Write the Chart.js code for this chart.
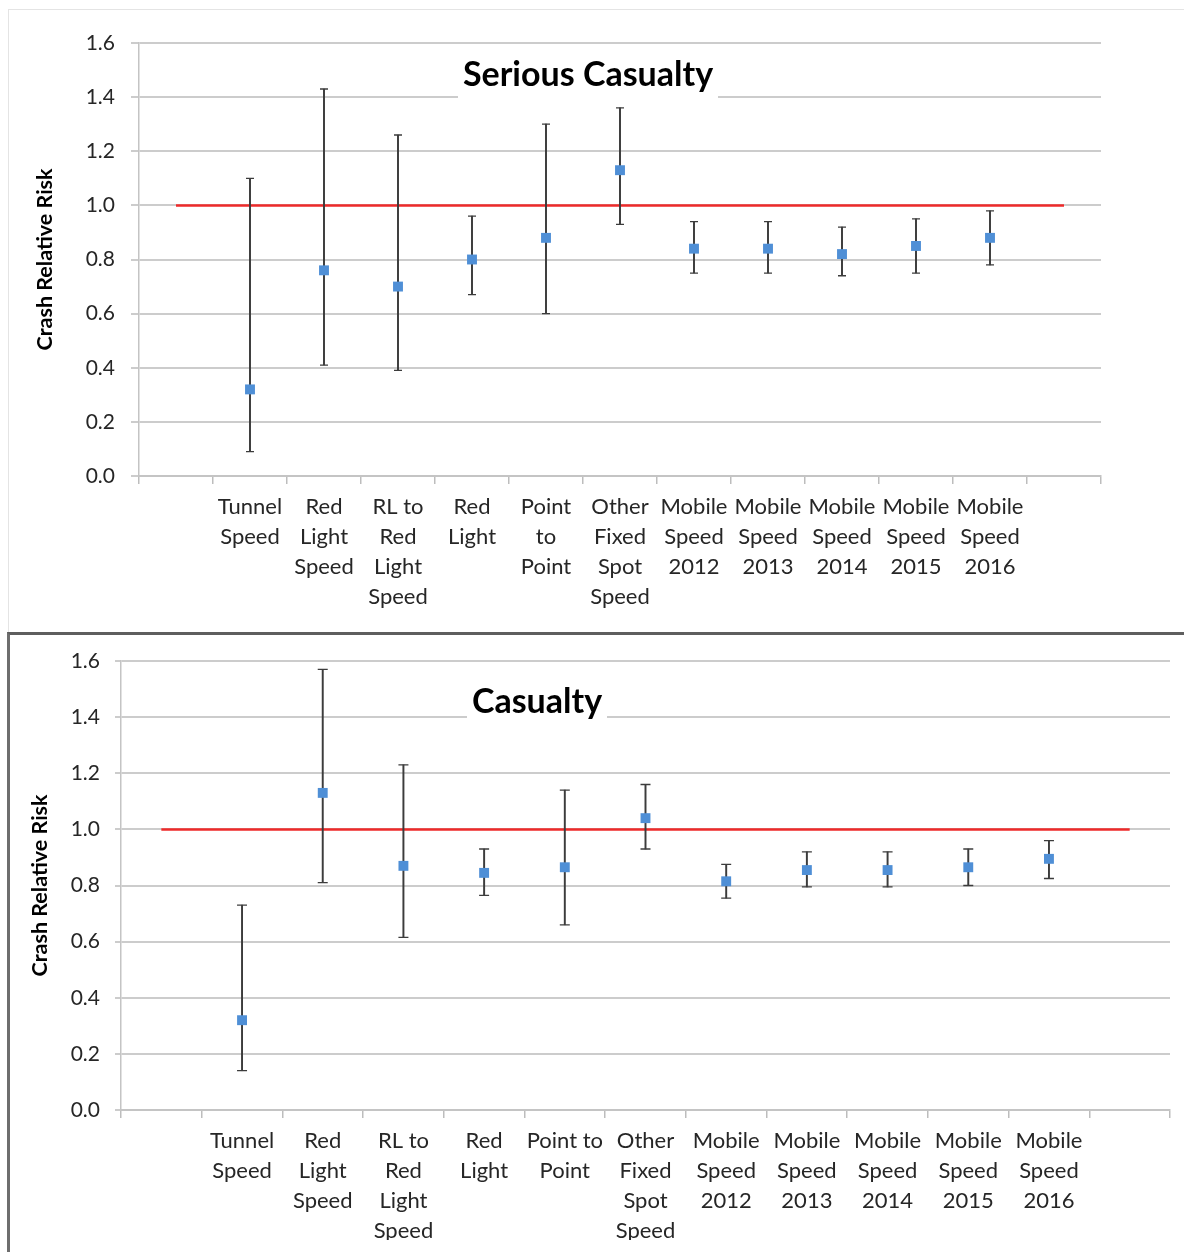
<!DOCTYPE html>
<html>
<head>
<meta charset="utf-8">
<script src="https://cdn.jsdelivr.net/npm/chart.js@4.4.1/dist/chart.umd.min.js"></script>
<style>
  html, body { margin: 0; padding: 0; background: #ffffff; }
  body { width: 1184px; height: 1252px; position: relative; overflow: hidden; }
  #p1 { position: absolute; left: 8px; top: 9px; width: 1176px; height: 623px; box-sizing: border-box;
        border-top: 1px solid #e4e4e4; border-left: 1px solid #e4e4e4; }
  #p2 { position: absolute; left: 7px; top: 632px; width: 1177px; height: 620px; box-sizing: border-box;
        border-top: 3px solid #5e5e5e; border-left: 3px solid #6e6e6e; }
  canvas { position: absolute; left: 0; }
  #c1 { top: 0; }
  #c2 { top: 632px; }
</style>
</head>
<body>
<div id="p1"></div>
<div id="p2"></div>
<canvas id="c1" width="1184" height="632"></canvas>
<canvas id="c2" width="1184" height="620"></canvas>
<script>
// ---------- DATA ----------
const categoriesSerious = [
  "", ["Tunnel","Speed"], ["Red","Light","Speed"], ["RL to","Red","Light","Speed"], ["Red","Light"],
  ["Point","to","Point"], ["Other","Fixed","Spot","Speed"], ["Mobile","Speed","2012"], ["Mobile","Speed","2013"],
  ["Mobile","Speed","2014"], ["Mobile","Speed","2015"], ["Mobile","Speed","2016"], ""
];
const categoriesCasualty = [
  "", ["Tunnel","Speed"], ["Red","Light","Speed"], ["RL to","Red","Light","Speed"], ["Red","Light"],
  ["Point to","Point"], ["Other","Fixed","Spot","Speed"], ["Mobile","Speed","2012"], ["Mobile","Speed","2013"],
  ["Mobile","Speed","2014"], ["Mobile","Speed","2015"], ["Mobile","Speed","2016"], ""
];

const seriousRR   = [null, 0.32, 0.76, 0.70, 0.80, 0.88, 1.13, 0.84, 0.84, 0.82, 0.85, 0.88, null];
const seriousLow  = [null, 0.09, 0.41, 0.39, 0.67, 0.60, 0.93, 0.75, 0.75, 0.74, 0.75, 0.78, null];
const seriousHigh = [null, 1.10, 1.43, 1.26, 0.96, 1.30, 1.36, 0.94, 0.94, 0.92, 0.95, 0.98, null];

const casualtyRR   = [null, 0.32, 1.13, 0.87, 0.845, 0.865, 1.04, 0.815, 0.855, 0.855, 0.865, 0.895, null];
const casualtyLow  = [null, 0.14, 0.81, 0.615, 0.765, 0.66, 0.93, 0.755, 0.795, 0.795, 0.80, 0.825, null];
const casualtyHigh = [null, 0.73, 1.57, 1.23, 0.93, 1.14, 1.16, 0.875, 0.92, 0.92, 0.93, 0.96, null];

const referenceLine = [1, 1, 1, 1, 1, 1, 1, 1, 1, 1, 1, 1, 1];

const yTickMin = 0, yTickMax = 1.6, yTickStep = 0.2;
const titleSerious = "Serious Casualty";
const titleCasualty = "Casualty";
const yAxisTitle = "Crash Relative Risk";

// ---------- STYLE ----------
const FONT = "Lato, 'Open Sans', 'DejaVu Sans', sans-serif";
const BLUE = "#4F8FD6";
const BAR = "#3c3c3c";
const RED = "#EE2A2A";
const GRID = "#cccccc";
const TEXT = "#262626";

const titleBoxPlugin = {
  id: 'titleBox',
  afterDraw(chart, args, opts) {
    const ctx = chart.ctx, a = chart.chartArea;
    ctx.save();
    ctx.fillStyle = '#ffffff';
    ctx.fillRect(a.left + opts.box[0], a.top + opts.box[1], opts.box[2] - opts.box[0], opts.box[3] - opts.box[1]);
    ctx.fillStyle = '#000000';
    ctx.font = 'bold ' + opts.size + 'px ' + FONT;
    ctx.textAlign = 'center';
    ctx.textBaseline = 'middle';
    ctx.fillText(opts.text, a.left + opts.cx, a.top + opts.cy);
    ctx.restore();
  }
};

function makeChart(id, cats, rr, lo, hi, L) {
  const intervals = lo.map((l, i) => (l == null ? null : [l, hi[i]]));
  return new Chart(document.getElementById(id), {
    type: 'bar',
    data: {
      labels: cats,
      datasets: [
        { type: 'line', label: 'RR', data: rr, showLine: false, pointStyle: 'rect',
          pointRadius: L.markerR, pointBackgroundColor: BLUE, pointBorderWidth: 0, pointBorderColor: BLUE, order: 0 },
        { type: 'line', label: 'low', data: lo, showLine: false, pointStyle: 'line',
          pointRadius: L.capR, pointBorderColor: BAR, pointBorderWidth: 1.3, order: 1 },
        { type: 'line', label: 'high', data: hi, showLine: false, pointStyle: 'line',
          pointRadius: L.capR, pointBorderColor: BAR, pointBorderWidth: 1.3, order: 1 },
        { type: 'bar', label: 'CI', data: intervals, backgroundColor: BAR, barThickness: 1.3,
          borderWidth: 0, order: 2 },
        { type: 'line', label: 'ref', data: referenceLine, borderColor: RED, borderWidth: 2.5,
          pointRadius: 0, fill: false, order: 3 }
      ]
    },
    options: {
      responsive: false, animation: false, devicePixelRatio: 1,
      layout: { padding: L.padding },
      plugins: {
        legend: { display: false }, tooltip: { enabled: false },
        titleBox: L.title
      },
      scales: {
        x: {
          offset: true,
          grid: { offset: true, drawOnChartArea: false, drawTicks: true, tickLength: 8, color: '#bdbdbd', lineWidth: 1.5 },
          border: { display: true, color: '#c4c4c4', width: 2 },
          ticks: { autoSkip: false, maxRotation: 0, minRotation: 0, padding: 8, color: TEXT,
                   font: { family: FONT, size: L.xFont, lineHeight: 30 / L.xFont } },
          afterFit(s) { s.height = L.xHeight; }
        },
        y: {
          min: yTickMin, max: yTickMax,
          grid: { color: GRID, lineWidth: 2, tickLength: L.yTick, drawTicks: true },
          border: { display: true, color: '#c4c4c4', width: 1.5 },
          ticks: { stepSize: yTickStep, padding: L.yPad, color: TEXT,
                   font: { family: FONT, size: 21 },
                   callback: v => Number(v).toFixed(1) },
          title: { display: true, text: yAxisTitle, color: '#000', padding: 0,
                   font: { family: FONT, size: 21.5, weight: 'bold' } },
          afterFit(s) { s.width = L.yWidth; }
        }
      }
    },
    plugins: [titleBoxPlugin]
  });
}

function build() {
  makeChart('c1', categoriesSerious, seriousRR, seriousLow, seriousHigh, {
    padding: { left: 32, right: 83, top: 43, bottom: 16 },
    xHeight: 140, yWidth: 107, yTick: 8, yPad: 16, xFont: 22, markerR: 7, capR: 4,
    title: { text: titleSerious, size: 34, cx: 449, cy: 32, box: [319, 9, 579, 57] }
  });
  makeChart('c2', categoriesCasualty, casualtyRR, casualtyLow, casualtyHigh, {
    padding: { left: 27, right: 14, top: 29, bottom: 12 },
    xHeight: 130, yWidth: 94, yTick: 6, yPad: 15, xFont: 22, markerR: 7, capR: 5,
    title: { text: titleCasualty, size: 34, cx: 416, cy: 41, box: [346, 19, 486, 59] }
  });
}

if (document.fonts && document.fonts.load) {
  Promise.all([
    document.fonts.load("22px Lato"), document.fonts.load("bold 34px Lato")
  ]).then(build, build);
} else { build(); }
</script>
</body>
</html>
